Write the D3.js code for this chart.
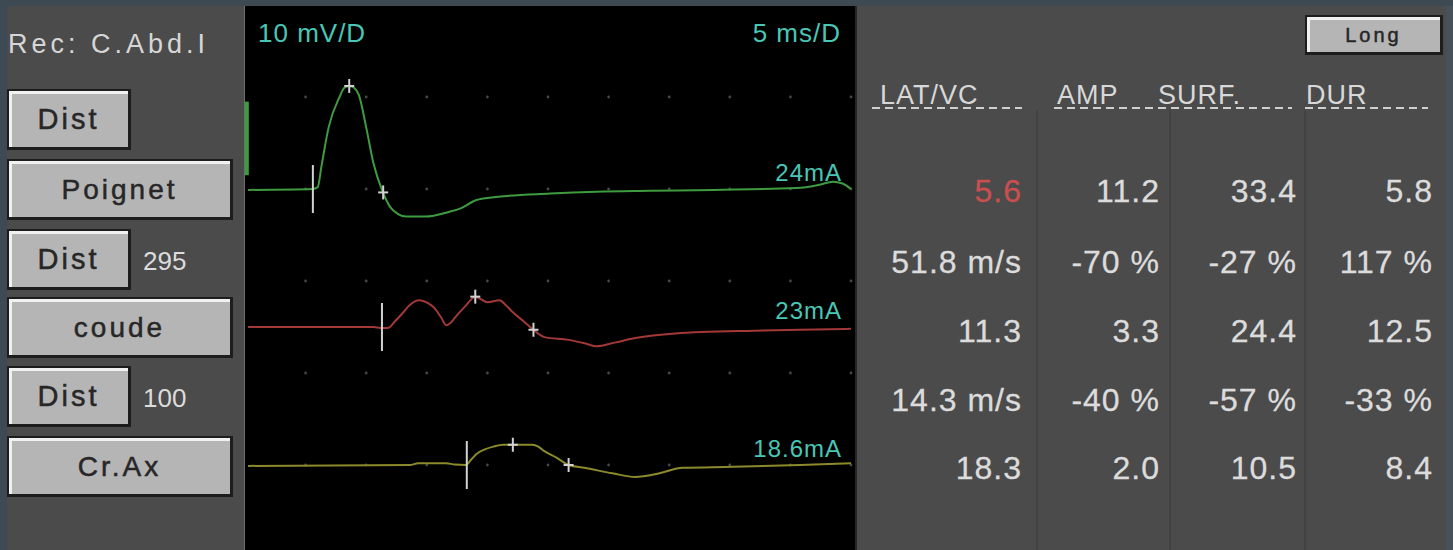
<!DOCTYPE html>
<html>
<head>
<meta charset="utf-8">
<script src="https://cdn.jsdelivr.net/npm/d3@7"></script>
<style>
  html, body { margin: 0; padding: 0; background: #3d4953; }
  svg { display: block; }
  text { font-family: "Liberation Sans", Arial, sans-serif; }
</style>
</head>
<body>
<svg id="chart" width="1453" height="550"></svg>
<script>
/******************************* Data **************************/
var recLabel = "Rec: C.Abd.I";
var sites = ["Poignet", "coude", "Cr.Ax"];
var distances = ["", "295", "100"];
var stimCurrent = ["24mA", "23mA", "18.6mA"];
var gainLabel = "10 mV/D";
var sweepLabel = "5 ms/D";
var headers = ["LAT/VC", "AMP", "SURF.", "DUR"];

// measurements per stimulation site
var latency   = [5.6, 11.3, 18.3];   // ms
var amplitude = [11.2, 3.3, 2.0];    // mV
var surface   = [33.4, 24.4, 10.5];  // mV.ms
var duration  = [5.8, 12.5, 8.4];    // ms
var peakTime  = [8.6, 19.0, 22.1];   // ms
// segment comparisons
var velocity  = [51.8, 14.3];        // m/s
var ampDrop   = [-70, -40];          // %
var surfDrop  = [-27, -57];          // %
var durChange = [117, -33];          // %

// traces: [ms, mV from baseline]
var traceWrist = [[0.25,-0.1],[5.6,0],[6.0,0.2],[6.3,2.4],[6.9,6.7],[7.8,10.0],[8.2,11.0],[8.6,11.2],
  [9.0,11.0],[9.4,10.2],[10.0,6.7],[10.6,2.8],[11.3,-0.1],[12.0,-2.0],[12.6,-2.7],[13.3,-3.0],
  [14.9,-3.0],[16.8,-2.5],[17.8,-2.1],[19.1,-1.2],[20.5,-0.9],[25.2,-0.5],[29.0,-0.3],[33.4,-0.2],
  [38.7,-0.1],[45.5,0.1],[46.8,0.3],[47.5,0.5],[48.5,0.8],[49.3,0.6],[50,0]];
var traceElbow = [[0.25,0],[10.6,0],[11.2,-0.1],[11.8,-0.1],[12.4,0.65],[13.0,1.5],[13.6,2.4],[14.4,2.9],
  [15.1,2.6],[15.6,2.1],[16.2,1.0],[16.6,0.2],[17.0,0.5],[17.5,1.3],[18.2,2.3],[19.0,3.3],[20.0,2.7],
  [21.0,2.9],[21.5,2.4],[22.1,1.6],[23.1,0.5],[23.8,-0.3],[24.7,-1.1],[26.7,-1.4],[28.1,-1.8],
  [29.0,-2.1],[30.5,-1.7],[32.2,-1.2],[35.5,-0.7],[42.0,-0.4],[45.8,-0.3],[50,-0.2]];
var traceAxilla = [[0.25,-0.1],[13.6,0],[14.3,0.2],[16.6,0.2],[17.3,0.05],[18.2,0],[18.7,0.65],[19.1,1.2],
  [19.8,1.7],[20.5,2.0],[21.3,2.2],[22.1,2.2],[23.7,2.2],[24.2,2.0],[24.7,1.5],[25.7,0.8],[26.7,0],
  [28.0,-0.3],[30.3,-0.9],[32.2,-1.3],[34.2,-0.9],[36.1,-0.3],[40.3,-0.2],[45.8,0],[50,0.2]];
var stimArtifact = [[0.15, 9.5], [0.15, 1.5]];

var traces = [traceWrist, traceElbow, traceAxilla];
var baselines = [-20, -35, -50];     // mV offset of each trace on screen
var traceColors = ["#3f9b3f", "#a23838", "#8c8a2c"];

/******************************* Drawing **************************/
var svg = d3.select("#chart");
var cyan = "#48c7b6";

// panels
svg.append("rect").attr("x", 7).attr("y", 6).attr("width", 1439).attr("height", 544).attr("fill", "#4b4b4b");
svg.append("rect").attr("x", 1446).attr("y", 6).attr("width", 7).attr("height", 544).attr("fill", "#47515a");
svg.append("rect").attr("x", 244).attr("y", 6).attr("width", 612).attr("height", 544).attr("fill", "#000");
svg.append("line").attr("x1", 244.5).attr("x2", 244.5).attr("y1", 6).attr("y2", 550)
  .attr("stroke", "#6e6e6e").attr("stroke-width", 1);

// scales
var x = d3.scaleLinear().domain([0, 50]).range([245, 851]);
var y = d3.scaleLinear().domain([0, -50]).range([5, 465]);

// grid dots
var dots = [];
d3.range(1, 11).forEach(function(i) {
  d3.range(1, 6).forEach(function(j) { dots.push([i * 5, -j * 10]); });
});
svg.append("g").selectAll("circle").data(dots).enter().append("circle")
  .attr("cx", function(d) { return x(d[0]); })
  .attr("cy", function(d) { return y(d[1]); })
  .attr("r", 1.4).attr("fill", "#474747");

// scale labels
svg.append("text").attr("x", 258).attr("y", 42).text(gainLabel)
  .attr("fill", cyan).attr("font-size", 26).attr("letter-spacing", 1);
svg.append("text").attr("x", 841).attr("y", 42).text(sweepLabel)
  .attr("fill", cyan).attr("font-size", 26).attr("letter-spacing", 1).attr("text-anchor", "end");

// stimulus artifact
svg.append("path").datum(stimArtifact)
  .attr("d", d3.line().x(function(d) { return x(d[0]); }).y(function(d) { return y(baselines[0] + d[1]); }))
  .attr("stroke", traceColors[0]).attr("stroke-width", 4).attr("fill", "none");

// traces
traces.forEach(function(tr, k) {
  var line = d3.line()
    .x(function(d) { return x(d[0]); })
    .y(function(d) { return y(baselines[k] + d[1]); })
    .curve(d3.curveMonotoneX);
  svg.append("path").datum(tr).attr("d", line)
    .attr("stroke", traceColors[k]).attr("stroke-width", 2).attr("fill", "none");

  svg.append("text").attr("x", 842).attr("y", y(baselines[k]) - 8).text(stimCurrent[k])
    .attr("fill", cyan).attr("font-size", 24).attr("letter-spacing", 1).attr("text-anchor", "end");
});

// value of a trace at a given time (linear between samples)
function valueAt(tr, t) {
  var i = d3.bisector(function(d) { return d[0]; }).left(tr, t);
  if (i <= 0) return tr[0][1];
  if (i >= tr.length) return tr[tr.length - 1][1];
  var a = tr[i - 1], b = tr[i];
  return a[1] + (b[1] - a[1]) * (t - a[0]) / (b[0] - a[0]);
}

// cursors
var markColor = "#d2d2d2";
var cursors = svg.append("g").attr("stroke", markColor).attr("stroke-width", 2);
traces.forEach(function(tr, k) {
  var xo = x(latency[k]), yb = y(baselines[k]);
  cursors.append("line").attr("x1", xo).attr("x2", xo).attr("y1", yb - 24).attr("y2", yb + 24);
  [peakTime[k], latency[k] + duration[k]].forEach(function(t) {
    var px = x(t), py = y(baselines[k] + valueAt(tr, t));
    cursors.append("line").attr("x1", px).attr("x2", px).attr("y1", py - 7).attr("y2", py + 7);
    cursors.append("line").attr("x1", px - 5).attr("x2", px + 5).attr("y1", py).attr("y2", py);
  });
});

// buttons
function button(bx, by, w, h, label, size) {
  var g = svg.append("g");
  g.append("rect").attr("x", bx - 2).attr("y", by - 2).attr("width", w + 5).attr("height", h + 5).attr("fill", "#1d1d1d");
  g.append("rect").attr("x", bx).attr("y", by).attr("width", w).attr("height", h).attr("fill", "#b5b5b5");
  g.append("path").attr("d", "M" + (bx + 1.5) + "," + (by + h) + "V" + (by + 1.5) + "H" + (bx + w))
    .attr("stroke", "#f1f1f1").attr("stroke-width", 3).attr("fill", "none");
  g.append("text").attr("x", bx + w / 2).attr("y", by + h / 2 + size * 0.36).text(label)
    .attr("text-anchor", "middle").attr("fill", "#272727").attr("font-size", size).attr("letter-spacing", 3)
    .attr("stroke", "#272727").attr("stroke-width", 0.5);
}

svg.append("text").attr("x", 8).attr("y", 53).text(recLabel)
  .attr("fill", "#d6d6d6").attr("font-size", 27).attr("letter-spacing", 4);

var rowTop = [91, 161, 231, 299, 368, 438];
sites.forEach(function(s, k) {
  button(9, rowTop[k * 2], 119, 56, "Dist", 29);
  if (distances[k] !== "") {
    svg.append("text").attr("x", 143).attr("y", rowTop[k * 2] + 39).text(distances[k])
      .attr("fill", "#dcdcdc").attr("font-size", 26).attr("letter-spacing", 0);
  }
  button(9, rowTop[k * 2 + 1], 221, 56, s, 28);
});

button(1307, 17, 133, 35, "Long", 20);

// table
var colRight = [1022, 1160, 1297, 1433];
var colSep = [1037, 1170, 1305];
svg.append("g").selectAll("line").data(colSep).enter().append("line")
  .attr("x1", function(d) { return d; }).attr("x2", function(d) { return d; })
  .attr("y1", 110).attr("y2", 550).attr("stroke", "#424242").attr("stroke-width", 2);
svg.append("line").attr("x1", 856).attr("x2", 856).attr("y1", 6).attr("y2", 550)
  .attr("stroke", "#262626").attr("stroke-width", 2);

var headX = [880, 1057, 1158, 1306];
var dashSpan = [[872, 1022], [1054, 1158], [1158, 1292], [1305, 1428]];
headers.forEach(function(h, i) {
  svg.append("text").attr("x", headX[i]).attr("y", 104).text(h)
    .attr("fill", "#d8d8d8").attr("font-size", 27).attr("letter-spacing", 1);
  svg.append("line").attr("x1", dashSpan[i][0]).attr("x2", dashSpan[i][1]).attr("y1", 108).attr("y2", 108)
    .attr("stroke", "#cfcfcf").attr("stroke-width", 2).attr("stroke-dasharray", "8,5");
});

var loc = d3.formatLocale({decimal: ".", thousands: ",", grouping: [3], currency: ["", ""], minus: "-"});
var f1 = loc.format(".1f"), fi = loc.format("d");
var rows = [];
[0, 1, 2].forEach(function(k) {
  rows.push([f1(latency[k]), f1(amplitude[k]), f1(surface[k]), f1(duration[k])]);
  if (k < 2) rows.push([f1(velocity[k]) + " m/s", fi(ampDrop[k]) + " %", fi(surfDrop[k]) + " %", fi(durChange[k]) + " %"]);
});
var rowY = [202, 273, 342, 411, 479];
rows.forEach(function(r, ri) {
  r.forEach(function(v, ci) {
    var c = (ri === 0 && ci === 0) ? "#c94f4f" : "#dcdcdc";
    svg.append("text").attr("x", colRight[ci]).attr("y", rowY[ri]).text(v)
      .attr("text-anchor", "end").attr("font-size", 32).attr("letter-spacing", 1)
      .attr("fill", c).attr("stroke", c).attr("stroke-width", 0.3);
  });
});
</script>
</body>
</html>
